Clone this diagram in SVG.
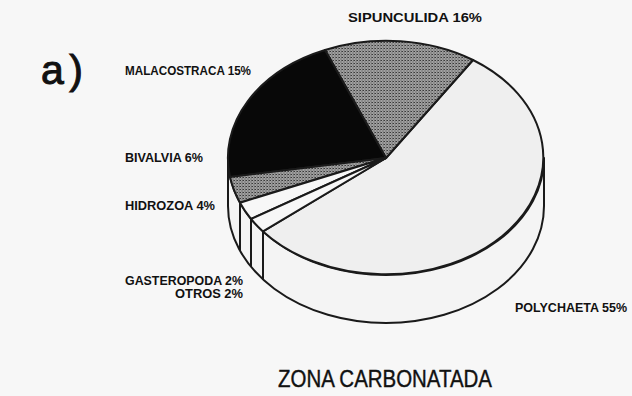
<svg xmlns="http://www.w3.org/2000/svg" width="632" height="396" viewBox="0 0 632 396">
<defs>
<pattern id="dots" width="3" height="3" patternUnits="userSpaceOnUse">
<rect width="3" height="3" fill="#a2a2a2"/>
<rect x="0" y="0" width="1" height="1" fill="#3a3a3a"/>
<rect x="1.5" y="1.5" width="1" height="1" fill="#4a4a4a"/>
<rect x="2" y="0" width="1" height="1" fill="#666"/>
</pattern>
<style>
.lbl{font-family:"Liberation Sans",Arial,sans-serif;font-weight:bold;font-size:12.5px;fill:#111}
.edge{stroke:#1a1a1a;stroke-width:2;stroke-linejoin:round}
.title{font-family:"Liberation Sans",Arial,sans-serif;font-size:24px;fill:#111;stroke:#111;stroke-width:0.4}
</style>
</defs>
<rect width="632" height="396" fill="#f7f7f7"/>
<text x="41" y="84" textLength="42" lengthAdjust="spacing" font-family="Liberation Sans, Arial, sans-serif" font-size="41" fill="#111" stroke="#111" stroke-width="1">a)</text>
<g id="side">
<path class="edge" d="M228,158 A158,117 0 0,0 544,158 L544,206 A158,117 0 0,1 228,206 Z" fill="#f4f4f4"/>
<line class="edge" x1="240" y1="202.7" x2="240" y2="250.7"/>
<line class="edge" x1="251" y1="219" x2="251" y2="267"/>
<line class="edge" x1="263" y1="231.4" x2="263" y2="279.4"/>
</g>
<g id="polychaeta">
<path class="edge" d="M386,158 L473,60 A158,117 0 1,1 263,231.4 Z" fill="#efefef"/>
</g>
<g id="sipunculida">
<path class="edge" d="M386,158 L325,50 A158,117 0 0,1 473,60 Z" fill="url(#dots)"/>
</g>
<g id="malacostraca">
<path class="edge" d="M386,158 L230,177 A158,117 0 0,1 325,50 Z" fill="#080808"/>
</g>
<g id="bivalvia">
<path class="edge" d="M386,158 L240,202.7 A158,117 0 0,1 230,177 Z" fill="url(#dots)"/>
</g>
<g id="hidrozoa">
<path class="edge" d="M386,158 L251,219 A158,117 0 0,1 240,202.7 Z" fill="#f7f7f7"/>
</g>
<g id="gasteropoda-otros">
<path class="edge" d="M386,158 L263,231.4 A158,117 0 0,1 251,219 Z" fill="#f7f7f7"/>
</g>
<g id="labels">
<text class="lbl" x="348" y="22" textLength="134" lengthAdjust="spacingAndGlyphs">SIPUNCULIDA 16%</text>
<text class="lbl" x="125" y="75" textLength="126" lengthAdjust="spacingAndGlyphs">MALACOSTRACA 15%</text>
<text class="lbl" x="125" y="162" textLength="78" lengthAdjust="spacingAndGlyphs">BIVALVIA 6%</text>
<text class="lbl" x="125" y="210" textLength="90" lengthAdjust="spacingAndGlyphs">HIDROZOA 4%</text>
<text class="lbl" x="125" y="285" textLength="118" lengthAdjust="spacingAndGlyphs">GASTEROPODA 2%</text>
<text class="lbl" x="175" y="298" textLength="68" lengthAdjust="spacingAndGlyphs">OTROS 2%</text>
<text class="lbl" x="515" y="312" textLength="112" lengthAdjust="spacingAndGlyphs">POLYCHAETA 55%</text>
</g>
<text class="title" x="278" y="387" textLength="214" lengthAdjust="spacingAndGlyphs">ZONA CARBONATADA</text>
</svg>
